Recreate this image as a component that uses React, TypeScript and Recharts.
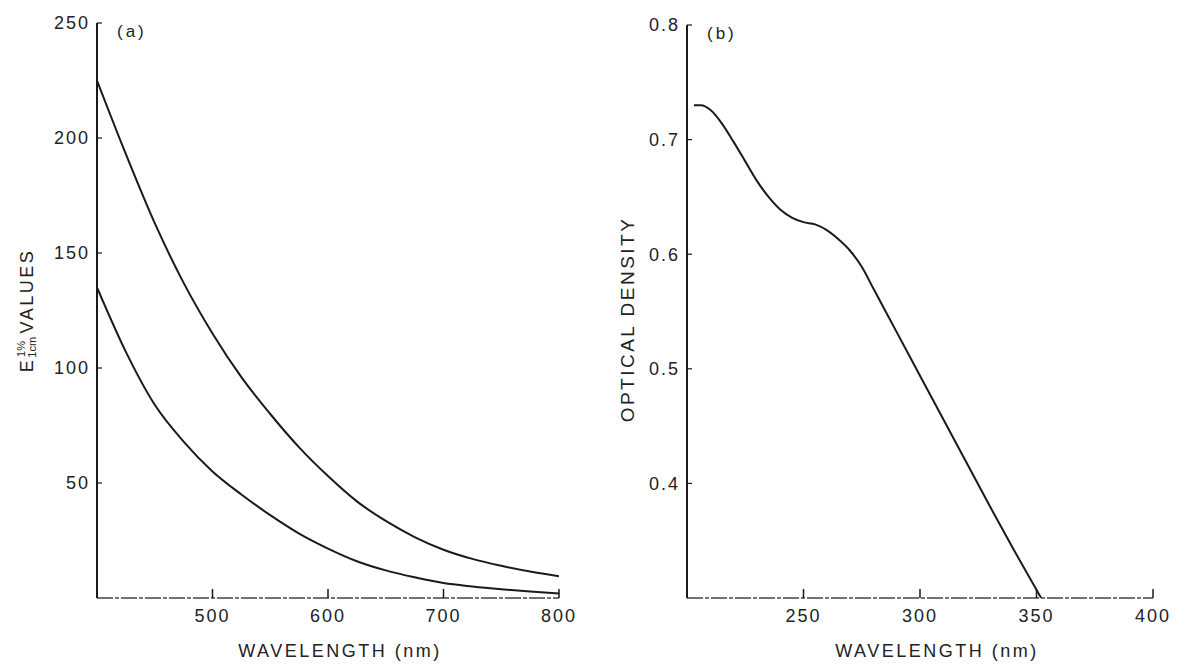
import React from 'react';
import { LineChart, Line, XAxis, YAxis, Label } from 'recharts';

// panel (a): E values against wavelength, two curves
const wavelengthsA = [400, 425, 450, 475, 500, 525, 550, 575, 600, 625, 650, 675, 700, 725, 750, 775, 800];
const upperCurve = [225, 193, 163, 137, 115, 96, 80, 65.5, 53, 42, 33.5, 26.5, 21, 17, 14, 11.5, 9.5];
const lowerCurve = [135, 107, 84, 68, 55, 45, 36, 28, 21.5, 16, 12, 9, 6.5, 5, 3.8, 2.8, 2];
const xTicksA = [500, 600, 700, 800];
const yTicksA = [50, 100, 150, 200, 250];

// panel (b): optical density against wavelength
const wavelengthsB = [203, 206, 210, 215, 220, 225, 230, 235, 240, 245, 250, 255, 260, 265, 270, 275, 280, 290, 300, 310, 320, 330, 340, 352];
const densityCurve = [0.73, 0.73, 0.726, 0.714, 0.698, 0.681, 0.664, 0.65, 0.639, 0.632, 0.628, 0.626, 0.621, 0.613, 0.603, 0.589, 0.57, 0.532, 0.494, 0.456, 0.418, 0.38, 0.343, 0.3];
const xTicksB = [250, 300, 350, 400];
const yTicksB = [0.4, 0.5, 0.6, 0.7, 0.8];

const dataA = wavelengthsA.map((w, i) => ({ w, upper: upperCurve[i], lower: lowerCurve[i] }));
const dataB = wavelengthsB.map((w, i) => ({ w, od: densityCurve[i] }));

const FONT = "'Liberation Sans', Arial, Helvetica, sans-serif";
const INK = '#1a1a1a';

const XTick = (props: any) => {
  const { x, y, payload } = props;
  return (
    <g>
      <line x1={x} x2={x} y1={y} y2={y - 9} stroke={INK} strokeWidth={1.5} />
      <text x={x} y={y + 18} dy='0.35em' textAnchor='middle' fontFamily={FONT} fontSize={18} letterSpacing={2} fill='#222'>
        {payload.value}
      </text>
    </g>
  );
};

const YTick = (props: any) => {
  const { x, y, payload } = props;
  return (
    <g>
      <line x1={x} x2={x + 5} y1={y} y2={y} stroke={INK} strokeWidth={1.2} />
      <text x={x - 7} y={y} dy='0.35em' textAnchor='end' fontFamily={FONT} fontSize={18} letterSpacing={2} fill='#222'>
        {payload.value}
      </text>
    </g>
  );
};

const xTitle = (shift: number) => (props: any) => {
  const vb = props.viewBox;
  return (
    <text x={vb.x + vb.width / 2 + shift} y={vb.y + 53} dy='0.35em' textAnchor='middle' fontFamily={FONT} fontSize={18} letterSpacing={2.5} fill='#222'>
      WAVELENGTH (nm)
    </text>
  );
};

const panelLetter = (txt: string) => (props: any) => {
  const vb = props.viewBox;
  return (
    <text x={vb.x + vb.width + 20} y={vb.y + 8} dy='0.35em' fontFamily={FONT} fontSize={17} letterSpacing={3} fill='#222'>
      {txt}
    </text>
  );
};

const eTitle = (props: any) => {
  const vb = props.viewBox;
  const cx = vb.x + 27;
  const cy = vb.y + vb.height / 2;
  return (
    <text x={cx} y={cy} transform={`rotate(-90 ${cx} ${cy})`} textAnchor='middle' dominantBaseline='central' fontFamily={FONT} fontSize={18} letterSpacing={2.5} fill='#222'>
      E
      <tspan fontSize={11} dy={5} letterSpacing={0}>1cm</tspan>
      <tspan fontSize={11} dx={-20} dy={-11} letterSpacing={0}>1%</tspan>
      <tspan dy={6}> VALUES</tspan>
    </text>
  );
};

const odTitle = (props: any) => {
  const vb = props.viewBox;
  const cx = vb.x + 47;
  const cy = vb.y + vb.height / 2 + 8;
  return (
    <text x={cx} y={cy} transform={`rotate(-90 ${cx} ${cy})`} textAnchor='middle' dominantBaseline='central' fontFamily={FONT} fontSize={19} letterSpacing={2.5} fill='#222'>
      OPTICAL DENSITY
    </text>
  );
};

const App = () => {
  return (
    <div style={{ position: 'absolute', left: 0, top: 0, width: 1180, height: 665, background: '#fff' }}>
      <div style={{ position: 'absolute', left: 0, top: 0 }}>
        <LineChart width={600} height={665} data={dataA} margin={{ top: 23, right: 41, bottom: 7, left: 0 }}>
          <XAxis
            dataKey='w'
            type='number'
            domain={[400, 800]}
            ticks={xTicksA}
            allowDataOverflow
            height={60}
            tickSize={0}
            tickMargin={0}
            tick={<XTick />}
            tickLine={false}
            axisLine={{ stroke: '#444', strokeWidth: 1.3, strokeDasharray: '16 2 4 2' }}
          >
            <Label content={xTitle(12)} />
          </XAxis>
          <YAxis
            type='number'
            domain={[0, 250]}
            ticks={yTicksA}
            width={97}
            tickSize={0}
            tickMargin={0}
            tick={<YTick />}
            tickLine={false}
            axisLine={{ stroke: INK, strokeWidth: 2 }}
          >
            <Label content={eTitle} />
            <Label content={panelLetter('(a)')} />
          </YAxis>
          <Line type='monotone' dataKey='upper' stroke={INK} strokeWidth={2} dot={false} isAnimationActive={false} />
          <Line type='monotone' dataKey='lower' stroke={INK} strokeWidth={2} dot={false} isAnimationActive={false} />
        </LineChart>
      </div>
      <div style={{ position: 'absolute', left: 580, top: 0 }}>
        <LineChart width={600} height={665} data={dataB} margin={{ top: 25, right: 27, bottom: 7, left: 0 }}>
          <XAxis
            dataKey='w'
            type='number'
            domain={[200, 400]}
            ticks={xTicksB}
            allowDataOverflow
            height={60}
            tickSize={0}
            tickMargin={0}
            tick={<XTick />}
            tickLine={false}
            axisLine={{ stroke: '#444', strokeWidth: 1.3, strokeDasharray: '16 2 4 2' }}
          >
            <Label content={xTitle(17)} />
          </XAxis>
          <YAxis
            type='number'
            domain={[0.3, 0.8]}
            ticks={yTicksB}
            width={107}
            tickSize={0}
            tickMargin={0}
            tick={<YTick />}
            tickLine={false}
            allowDataOverflow
            axisLine={{ stroke: INK, strokeWidth: 2 }}
          >
            <Label content={odTitle} />
            <Label content={panelLetter('(b)')} />
          </YAxis>
          <Line type='monotone' dataKey='od' stroke={INK} strokeWidth={2} dot={false} isAnimationActive={false} />
        </LineChart>
      </div>
    </div>
  );
};

export default App;
